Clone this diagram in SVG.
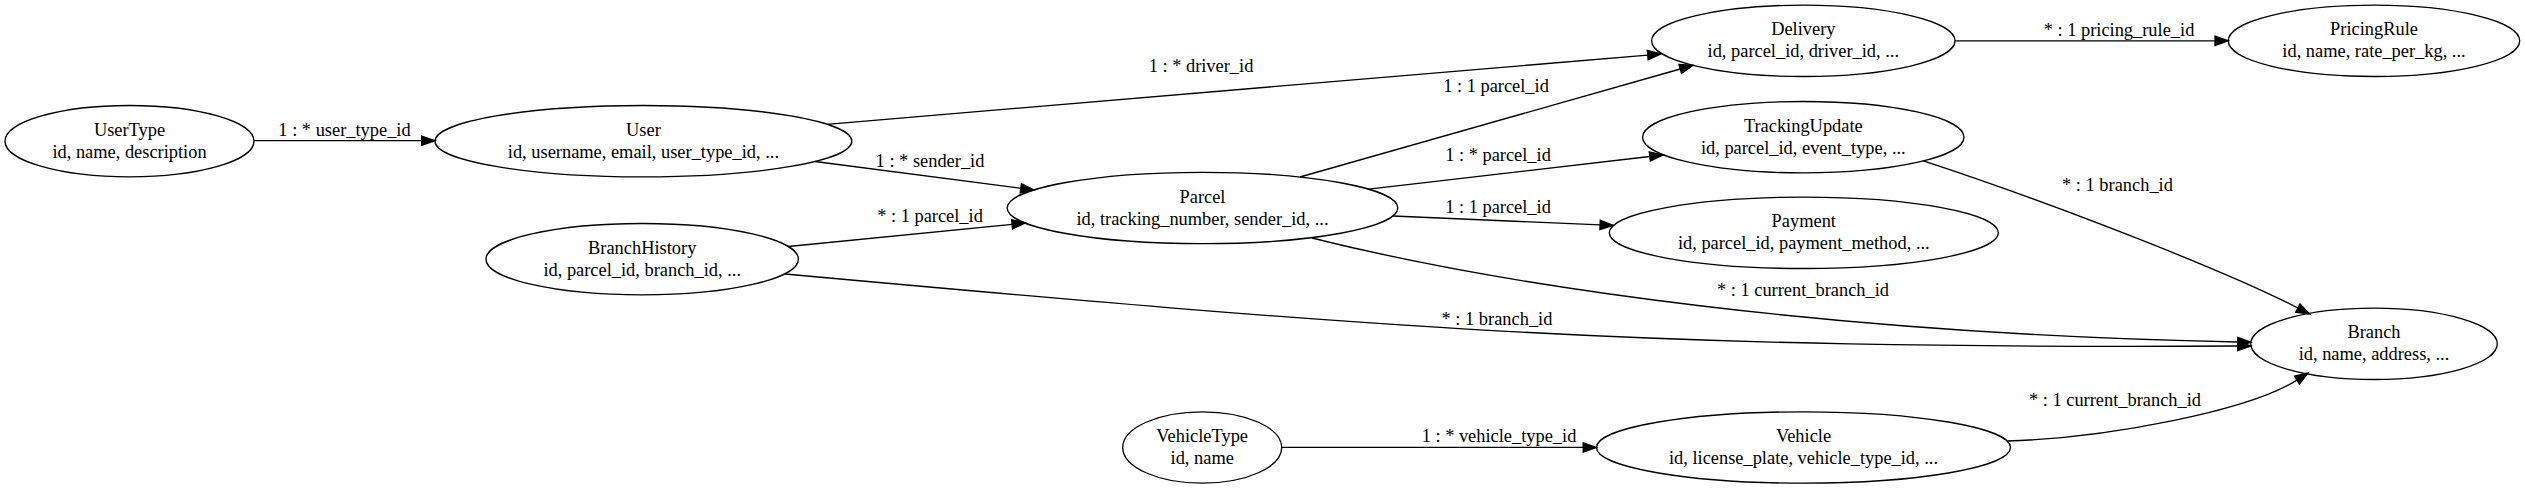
<svg xmlns="http://www.w3.org/2000/svg" width="2525" height="489" viewBox="0 0 2525 489">
<style>
.n ellipse{fill:none;stroke:#000;stroke-width:1.33}
text{font-family:"Liberation Serif","Times New Roman",serif;font-size:18.4px;fill:#000;text-anchor:middle}
.e path{fill:none;stroke:#000;stroke-width:1.33;marker-end:url(#ah)}
</style>
<defs>
<marker id="ah" markerUnits="userSpaceOnUse" markerWidth="20" markerHeight="14" refX="0" refY="0" viewBox="-1 -7 16 14" orient="auto" overflow="visible">
<path d="M0,-4.64 L13.3,0 L0,4.64 Z" fill="#000" stroke="#000" stroke-width="1.33"/>
</marker>
</defs>
<rect width="2525" height="489" fill="#fff"/>
<g id="connectors" class="e">
<path d="M254,140.7 L421.7,140.7"/>
<path d="M827,124.3 L1647.7,55.1"/>
<path d="M815,161.5 L1020.8,188.3"/>
<path d="M1300,177 L1680.2,69"/>
<path d="M1368.7,189.2 L1649.8,156.5"/>
<path d="M1393,216 L1600.1,224.9"/>
<path d="M1312,238 C1512,288 1837.7,334 2237.7,342"/>
<path d="M788.3,246.5 L1012.1,224.3"/>
<path d="M785,274 C1400,330 1650,349 2237.7,346"/>
<path d="M1923.3,160.9 C2040,199 2220,268 2297.9,308"/>
<path d="M2007,441 C2110,438 2250,410 2296.9,380.1"/>
<path d="M1281.7,447.4 L1583.2,447.4"/>
<path d="M1955,40.8 L2215,40.8"/>
<text x="344.5" y="136">1 : * user_type_id</text>
<text x="1201" y="71.5">1 : * driver_id</text>
<text x="930" y="167">1 : * sender_id</text>
<text x="1496" y="92">1 : 1 parcel_id</text>
<text x="1498" y="161">1 : * parcel_id</text>
<text x="1498" y="213">1 : 1 parcel_id</text>
<text x="930" y="222">* : 1 parcel_id</text>
<text x="1803" y="296">* : 1 current_branch_id</text>
<text x="1497" y="325">* : 1 branch_id</text>
<text x="2117.5" y="191">* : 1 branch_id</text>
<text x="2115" y="406">* : 1 current_branch_id</text>
<text x="1499" y="442.3">1 : * vehicle_type_id</text>
<text x="2119" y="36">* : 1 pricing_rule_id</text>
</g>
<g id="UserType" class="n"><ellipse cx="129.5" cy="141.2" rx="124.5" ry="35.7"/><text x="129.5" y="135.7">UserType</text><text x="129.5" y="157.7">id, name, description</text></g>
<g id="User" class="n"><ellipse cx="643.4" cy="141.2" rx="208.4" ry="35.7"/><text x="643.4" y="135.7">User</text><text x="643.4" y="157.7">id, username, email, user_type_id, ...</text></g>
<g id="BranchHistory" class="n"><ellipse cx="642.2" cy="259.2" rx="156.2" ry="35.7"/><text x="642.2" y="253.7">BranchHistory</text><text x="642.2" y="275.7">id, parcel_id, branch_id, ...</text></g>
<g id="Parcel" class="n"><ellipse cx="1202.5" cy="208" rx="195.3" ry="35.7"/><text x="1202.5" y="202.5">Parcel</text><text x="1202.5" y="224.5">id, tracking_number, sender_id, ...</text></g>
<g id="VehicleType" class="n"><ellipse cx="1202.2" cy="447.5" rx="79.5" ry="35.7"/><text x="1202.2" y="442">VehicleType</text><text x="1202.2" y="464">id, name</text></g>
<g id="Delivery" class="n"><ellipse cx="1803.3" cy="40.8" rx="151.7" ry="35.7"/><text x="1803.3" y="35.3">Delivery</text><text x="1803.3" y="57.3">id, parcel_id, driver_id, ...</text></g>
<g id="TrackingUpdate" class="n"><ellipse cx="1803.3" cy="137.2" rx="160.7" ry="35.7"/><text x="1803.3" y="131.7">TrackingUpdate</text><text x="1803.3" y="153.7">id, parcel_id, event_type, ...</text></g>
<g id="Payment" class="n"><ellipse cx="1803.8" cy="232.8" rx="194.5" ry="35.7"/><text x="1803.8" y="227.3">Payment</text><text x="1803.8" y="249.3">id, parcel_id, payment_method, ...</text></g>
<g id="Vehicle" class="n"><ellipse cx="1803.5" cy="447.5" rx="207" ry="35.7"/><text x="1803.5" y="442">Vehicle</text><text x="1803.5" y="464">id, license_plate, vehicle_type_id, ...</text></g>
<g id="PricingRule" class="n"><ellipse cx="2374" cy="40.8" rx="145.7" ry="35.7"/><text x="2374" y="35.3">PricingRule</text><text x="2374" y="57.3">id, name, rate_per_kg, ...</text></g>
<g id="Branch" class="n"><ellipse cx="2374" cy="343.8" rx="123.3" ry="35.7"/><text x="2374" y="338.3">Branch</text><text x="2374" y="360.3">id, name, address, ...</text></g>
</svg>
